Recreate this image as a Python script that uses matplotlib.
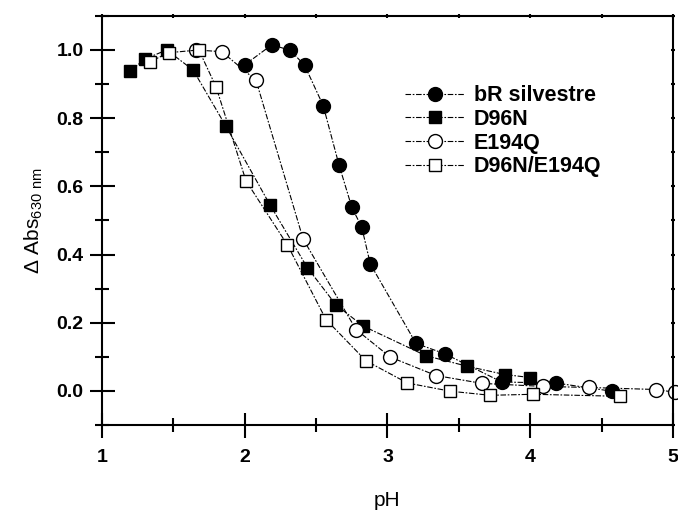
import numpy as np
import matplotlib
matplotlib.use('Agg')
import matplotlib.pyplot as plt
from matplotlib.ticker import MultipleLocator

plt.rcParams['font.family'] = ['Liberation Sans', 'DejaVu Sans']
plt.rcParams['mathtext.default'] = 'regular'

# pH titration data
ph_wt = [2.00, 2.19, 2.32, 2.42, 2.55, 2.66, 2.75, 2.82, 2.88, 3.20, 3.40, 3.80, 4.18, 4.57]
abs_wt = [0.956, 1.015, 0.999, 0.955, 0.837, 0.664, 0.539, 0.480, 0.372, 0.139, 0.109, 0.026, 0.023, -0.001]

ph_d96n = [1.20, 1.30, 1.455, 1.64, 1.87, 2.18, 2.44, 2.64, 2.83, 3.27, 3.56, 3.82, 4.00]
abs_d96n = [0.938, 0.973, 1.000, 0.941, 0.776, 0.544, 0.361, 0.252, 0.190, 0.103, 0.072, 0.048, 0.039]

ph_e194q = [1.66, 1.84, 2.08, 2.41, 2.78, 3.02, 3.34, 3.66, 4.09, 4.41, 4.88, 5.01]
abs_e194q = [1.000, 0.995, 0.911, 0.445, 0.180, 0.099, 0.045, 0.022, 0.013, 0.010, 0.004, -0.004]

ph_double = [1.34, 1.47, 1.68, 1.80, 2.01, 2.30, 2.57, 2.85, 3.14, 3.44, 3.72, 4.02, 4.63]
abs_double = [0.966, 0.992, 1.000, 0.892, 0.616, 0.428, 0.209, 0.088, 0.023, -0.001, -0.013, -0.010, -0.016]

fig = plt.figure(figsize=(6.78, 5.12), dpi=100)
ax = fig.add_axes([0.150, 0.170, 0.843, 0.799])

dash = (0, (5, 1.5, 1.5, 1.5))
kw = dict(color='black', linestyle=dash, linewidth=0.8, markeredgecolor='black',
          markeredgewidth=1.0, clip_on=False)
ax.plot(ph_wt, abs_wt, marker='o', markersize=10, markerfacecolor='black', label='bR silvestre', **kw)
ax.plot(ph_d96n, abs_d96n, marker='s', markersize=9, markerfacecolor='black', label='D96N', **kw)
ax.plot(ph_e194q, abs_e194q, marker='o', markersize=10, markerfacecolor='white', label='E194Q', **kw)
ax.plot(ph_double, abs_double, marker='s', markersize=9, markerfacecolor='white', label='D96N/E194Q', **kw)

ax.set_xlim(1, 5)
ax.set_ylim(-0.1, 1.1)
ax.xaxis.set_major_locator(MultipleLocator(1))
ax.xaxis.set_minor_locator(MultipleLocator(0.5))
ax.set_yticks([0.0, 0.2, 0.4, 0.6, 0.8, 1.0])
ax.yaxis.set_minor_locator(MultipleLocator(0.1))
ax.yaxis.set_major_formatter(matplotlib.ticker.FormatStrFormatter('%.1f'))

for s in ax.spines.values():
    s.set_linewidth(1.5)
ax.tick_params(which='major', direction='inout', length=18, width=1.5, labelsize=14, pad=4)
ax.tick_params(axis='x', which='major', pad=8)
ax.tick_params(which='minor', direction='inout', length=10, width=1.5)
ax.tick_params(which='both', top=True, right=True)
for t in ax.xaxis.get_major_ticks() + ax.xaxis.get_minor_ticks():
    t.tick2line.set_markersize(3)
for t in ax.yaxis.get_major_ticks() + ax.yaxis.get_minor_ticks():
    t.tick2line.set_markersize(3)
for lab in ax.get_xticklabels() + ax.get_yticklabels():
    lab.set_fontweight('bold')

ax.set_xlabel('pH', fontsize=15, labelpad=18)
ax.set_ylabel(r'$\Delta$ Abs$_{630\ nm}$', fontsize=15, labelpad=8)

leg = ax.legend(loc='upper left', bbox_to_anchor=(0.531, 0.830), frameon=False,
                borderpad=0, borderaxespad=0, handlelength=2.8, handletextpad=0.4,
                labelspacing=0.12, prop={'weight': 'bold', 'size': 15.5})

fig.savefig('out.png', dpi=100)
